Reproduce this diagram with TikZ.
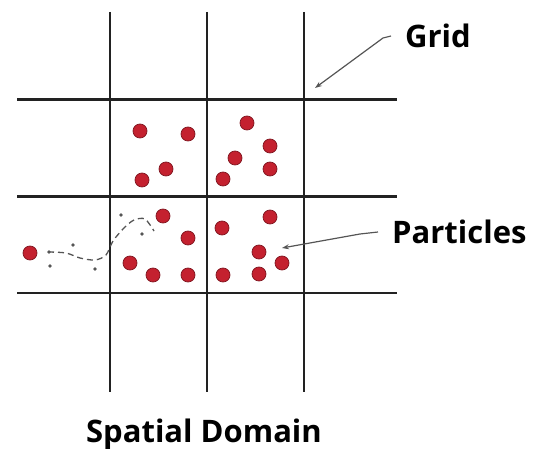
\documentclass[tikz,border=0pt]{standalone}
\usepackage{fontspec}
\setmainfont{Open Sans}
\usetikzlibrary{arrows.meta}
\usepackage{xcolor}
\definecolor{gridink}{HTML}{222222}
\definecolor{blood}{HTML}{C4212F}
\definecolor{greyink}{HTML}{555555}
\tikzset{
  gridrule/.style={draw=gridink, line width=2.4pt},
  particle/.style={circle, fill=blood, draw=blood!65!black, line width=0.7pt, minimum size=14pt, inner sep=0pt},
  speck/.style={circle, fill=greyink, minimum size=3.8pt, inner sep=0pt},
  tag/.style={font=\bfseries\fontsize{31}{34}\selectfont, inner sep=0pt},
  pointer/.style={-{Stealth[length=7pt,width=5pt]}, draw=greyink, line width=1.2pt},
  track/.style={draw=greyink, dash pattern=on 6pt off 4pt, line width=1.3pt}
}

\begin{document}
\begin{tikzpicture}[x=1pt, y=-1pt]
  \useasboundingbox (0,0) rectangle (535,449);

  % grid lines
  \foreach \gx in {110,207,304}
    \draw[gridrule] (\gx,12) -- (\gx,392);
  \foreach \gy in {99.5,196.5,293}
    \draw[gridrule] (17,\gy) -- (397,\gy);

  % particles inside the four middle cells
  \foreach \px/\py [count=\i] in {140/131, 188/134, 166/169, 142/180,
      247/123, 270/146, 235/158, 270/169, 223/179,
      163/216, 188/238, 130/263, 153/275, 188/275,
      270/217, 222/228, 259/252, 282/263, 223/275, 259/274}
    \node[particle] (p\i) at (\px,\py) {};

  % particle that left the domain, with its path
  \node[particle] (stray) at (30,253) {};
  \draw[track] plot[smooth] coordinates {(48,252) (66,253) (80,258) (95,260) (106,255)
    (113,241) (124,228) (134,220) (145,219) (154,231)};
  \foreach \sx/\sy [count=\i] in {49/252, 73/245, 50/266, 95/269, 121/215, 142/234}
    \node[speck] (s\i) at (\sx,\sy) {};

  % labels with pointers
  \node[tag, anchor=west] (gridlbl) at (405,36) {Grid};
  \coordinate (gridtip) at (315,88);
  \draw[pointer] ([xshift=-14pt]gridlbl.west) -- ++(-8,2) -- (gridtip);

  \node[tag, anchor=west] (partlbl) at (392,232) {Particles};
  \coordinate (parttip) at (282,248);
  \draw[pointer] ([xshift=-14pt]partlbl.west) -- ++(-18,2) -- (parttip);

  \node[tag, anchor=base] (domain) at (204,442) {Spatial Domain};
\end{tikzpicture}
\end{document}
